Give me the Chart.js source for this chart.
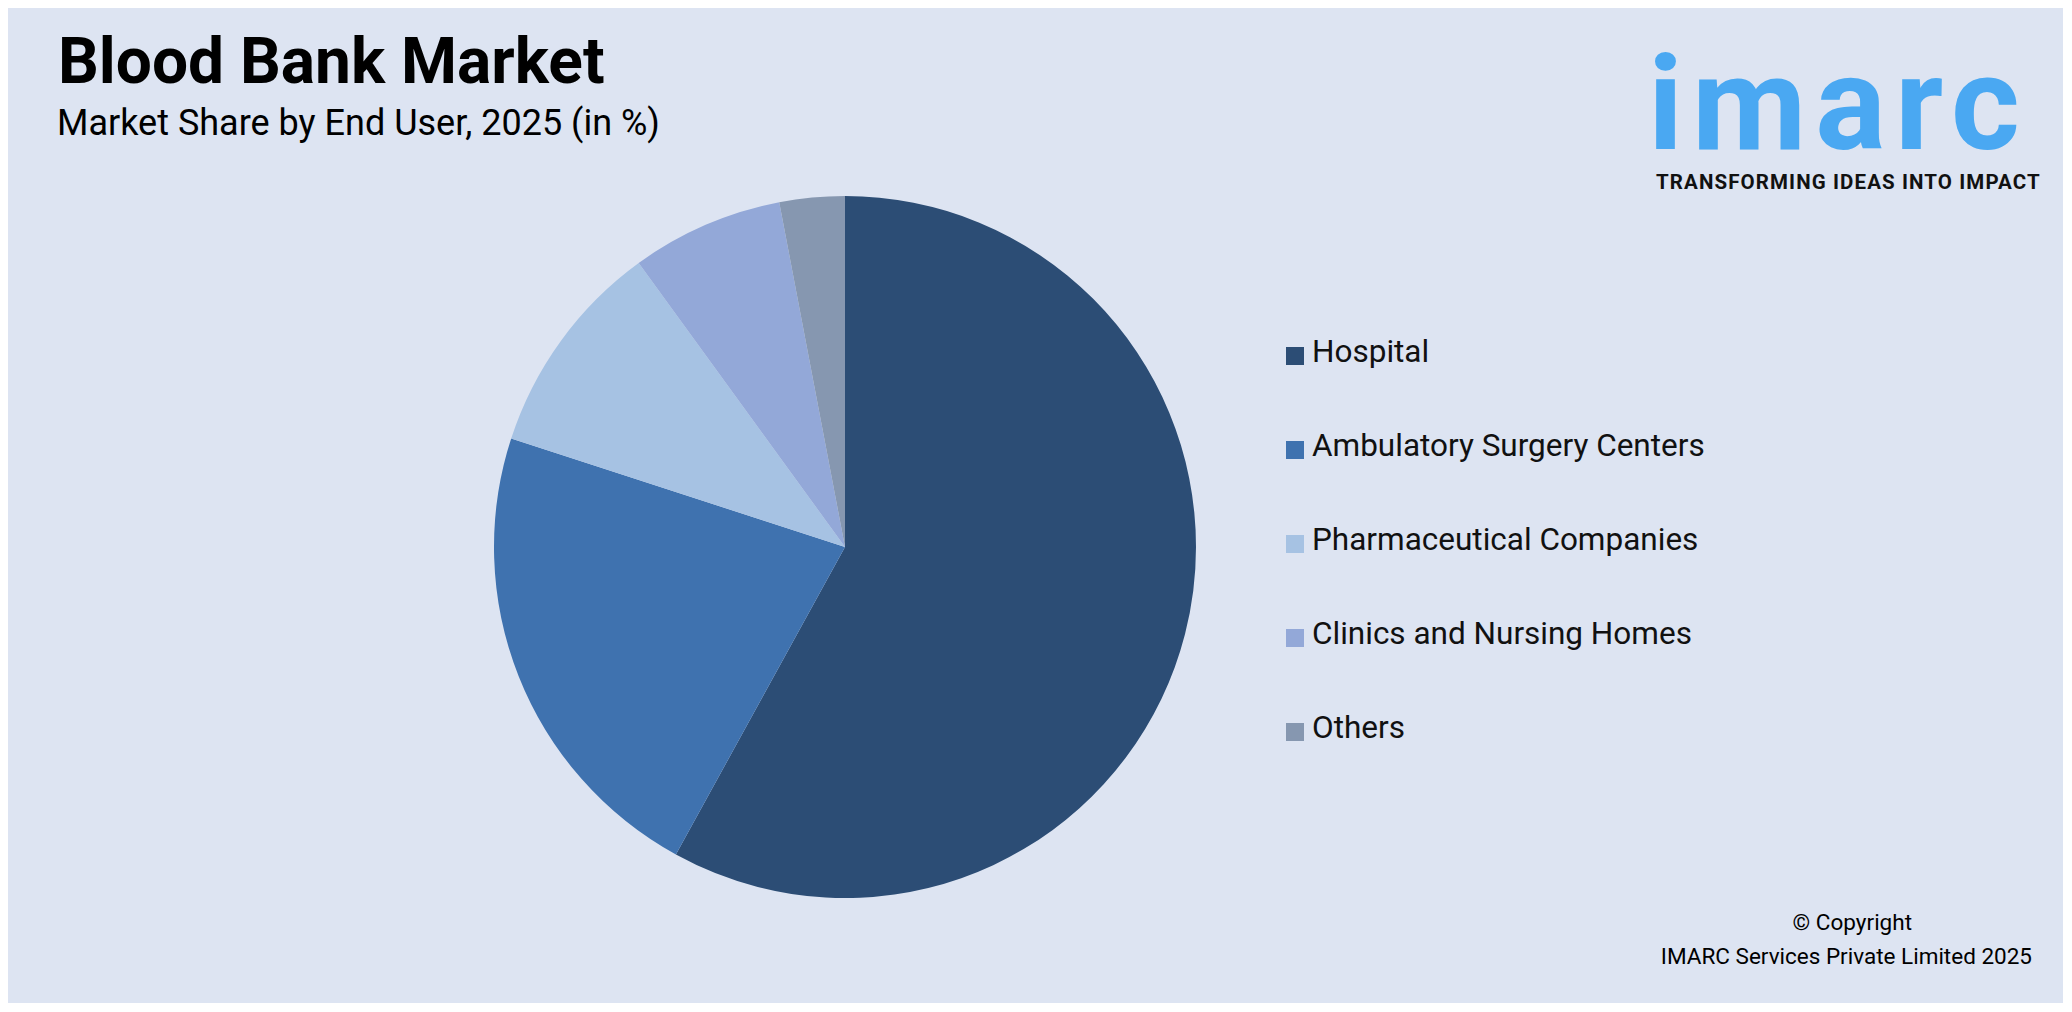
<!DOCTYPE html>
<html><head><meta charset="utf-8">
<script src="https://cdn.jsdelivr.net/npm/chart.js@4"></script>
<style>
body{margin:0;width:2072px;height:1012px;background:#fff;font-family:Roboto,"Open Sans",sans-serif;overflow:hidden}
#panel{position:absolute;left:8px;top:8px;width:2055px;height:995px;background:#dde4f2}
#t{position:absolute;left:58px;top:24px;font-size:64px;font-weight:bold;color:#000}
#s{position:absolute;left:57px;top:102px;font-size:36px;color:#000}
#c{position:absolute;left:490px;top:192px;width:710px;height:710px}
#leg{position:absolute;left:1286px;top:333px;font-size:31.5px;color:#111}
.li{height:94px;display:flex;align-items:flex-start}
.sw{width:18px;height:18px;margin:14px 8px 0 0}
#logo{position:absolute;left:1648px;top:38px;color:#4aa8f2;font-size:132px;font-weight:bold;letter-spacing:9px;line-height:1}
#tag{position:absolute;left:1656px;top:170px;font-size:20.5px;font-weight:bold;letter-spacing:1.1px;color:#111}
#cp{position:absolute;right:40px;top:905px;text-align:right;font-size:22.5px;line-height:34px;color:#000}
</style></head><body>
<div id="panel"></div>
<div id="t">Blood Bank Market</div>
<div id="s">Market Share by End User, 2025 (in %)</div>
<div id="c"><canvas id="cv"></canvas></div>
<div id="leg"></div>
<div id="logo">imarc</div>
<div id="tag">TRANSFORMING IDEAS INTO IMPACT</div>
<div id="cp"><div style="padding-right:120px">© Copyright</div>IMARC Services Private Limited 2025</div>
<script>
const categories=["Hospital","Ambulatory Surgery Centers","Pharmaceutical Companies","Clinics and Nursing Homes","Others"];
const shares=[58,22,10,7,3];
const colors=["#2c4d75","#3f72af","#a6c2e3","#93a8d8","#8697b0"];
const leg=document.getElementById('leg');
categories.forEach((c,i)=>{leg.innerHTML+=`<div class="li"><div class="sw" style="background:${colors[i]}"></div>${c}</div>`;});
new Chart(document.getElementById('cv'),{type:'pie',
data:{labels:categories,datasets:[{data:shares,backgroundColor:colors,borderWidth:0}]},
options:{responsive:true,maintainAspectRatio:false,animation:false,layout:{padding:4},
plugins:{legend:{display:false},tooltip:{enabled:false}}}});
</script></body></html>
